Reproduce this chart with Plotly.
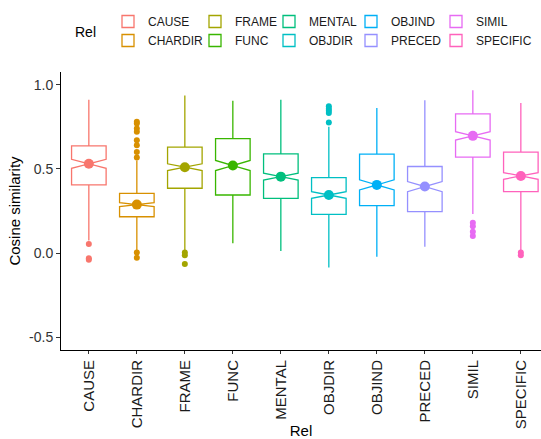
import plotly.graph_objects as go

# Relation categories and their box statistics (cosine similarity)
rels = ["CAUSE", "CHARDIR", "FRAME", "FUNC", "MENTAL",
        "OBJDIR", "OBJIND", "PRECED", "SIMIL", "SPECIFIC"]
colors = ["#F8766D", "#D89000", "#A3A500", "#39B600", "#00BF7D",
          "#00BFC4", "#00B0F6", "#9590FF", "#E76BF3", "#FF62BC"]

q1 = [0.405, 0.216, 0.385, 0.345, 0.325, 0.230, 0.282, 0.246, 0.570, 0.365]
median = [0.530, 0.288, 0.510, 0.520, 0.454, 0.345, 0.405, 0.395, 0.696, 0.458]
q3 = [0.637, 0.355, 0.629, 0.679, 0.589, 0.448, 0.587, 0.514, 0.827, 0.599]
lower_fence = [0.075, 0.010, 0.018, 0.058, 0.012, -0.085, -0.022, 0.038, 0.232, 0.018]
upper_fence = [0.911, 0.550, 0.935, 0.905, 0.911, 0.750, 0.861, 0.907, 0.966, 0.891]
notch_span = [0.027, 0.012, 0.020, 0.030, 0.020, 0.020, 0.030, 0.030, 0.025, 0.020]

outliers = {
    "CAUSE": [0.054, -0.030, -0.040],
    "CHARDIR": [0.780, 0.770, 0.740, 0.720, 0.670, 0.640, 0.600, 0.567, 0.004, -0.028],
    "FRAME": [0.004, -0.012, -0.065],
    "FUNC": [],
    "MENTAL": [],
    "OBJDIR": [0.871, 0.857, 0.845, 0.831, 0.776],
    "OBJIND": [],
    "PRECED": [],
    "SIMIL": [0.180, 0.160, 0.127, 0.101],
    "SPECIFIC": [0.004, -0.012],
}

# legend laid out column by column (two entries per column)
legend_cols = [["CAUSE", "CHARDIR"], ["FRAME", "FUNC"], ["MENTAL", "OBJDIR"],
               ["OBJIND", "PRECED"], ["SIMIL", "SPECIFIC"]]

FONT = "Liberation Sans, Arial, sans-serif"

# plot area in pixels, used to place the legend columns in paper coordinates
PLOT_L, PLOT_R, PLOT_T, PLOT_B = 61, 541, 72, 350
legend_left_px = [108, 195, 269, 351, 436]
legend_top_px = 7


def px_to_paper_x(px):
    return (px - PLOT_L) / (PLOT_R - PLOT_L)


def px_to_paper_y(py):
    return (PLOT_B - py) / (PLOT_B - PLOT_T)


fig = go.Figure()

col_of = {}
for ci, col in enumerate(legend_cols):
    for name in col:
        col_of[name] = ci

for i, rel in enumerate(rels):
    lg = "legend" if col_of[rel] == 0 else f"legend{col_of[rel] + 1}"
    fig.add_trace(go.Box(
        x=[rel], q1=[q1[i]], median=[median[i]], q3=[q3[i]],
        lowerfence=[lower_fence[i]], upperfence=[upper_fence[i]],
        notchspan=[notch_span[i]], notched=True, notchwidth=0.5,
        orientation="v", width=0.72, whiskerwidth=0,
        fillcolor="white", line=dict(color=colors[i], width=1.3),
        name=rel, legend=lg,
        boxpoints=False, hoverinfo="skip",
    ))
    pts = outliers[rel]
    if pts:
        fig.add_trace(go.Scatter(
            x=[rel] * len(pts), y=pts, mode="markers",
            marker=dict(color=colors[i], size=6),
            showlegend=False, hoverinfo="skip",
        ))
    fig.add_trace(go.Scatter(
        x=[rel], y=[median[i]], mode="markers",
        marker=dict(color=colors[i], size=10),
        showlegend=False, hoverinfo="skip",
    ))

legend_common = dict(
    orientation="v", xref="paper", yref="paper",
    xanchor="left", yanchor="top", y=px_to_paper_y(legend_top_px),
    font=dict(family=FONT, size=12, color="#1a1a1a"),
    bgcolor="rgba(0,0,0,0)", tracegroupgap=0,
    itemclick=False, itemdoubleclick=False,
)
layout_legends = {}
for ci, lx in enumerate(legend_left_px):
    key = "legend" if ci == 0 else f"legend{ci + 1}"
    layout_legends[key] = dict(x=px_to_paper_x(lx), **legend_common)

fig.update_layout(
    width=541, height=439,
    margin=dict(l=PLOT_L, r=541 - PLOT_R, t=PLOT_T, b=439 - PLOT_B, autoexpand=False),
    paper_bgcolor="white", plot_bgcolor="white",
    font=dict(family=FONT, color="#1a1a1a"),
    showlegend=True,
    **layout_legends,
    xaxis=dict(
        type="category", categoryorder="array", categoryarray=rels,
        range=[-0.58, 9.42],
        showline=True, linecolor="black", linewidth=1,
        ticks="outside", ticklen=3, tickcolor="#333333",
        tickangle=-90, tickfont=dict(family=FONT, size=15, color="#1a1a1a"),
        showgrid=False, zeroline=False, automargin=False,
        title=dict(text="Rel", font=dict(family=FONT, size=15, color="black"), standoff=0),
    ),
    yaxis=dict(
        type="linear", range=[-0.575, 1.075],
        tickvals=[-0.5, 0.0, 0.5, 1.0], ticktext=["-0.5", "0.0", "0.5", "1.0"],
        showline=True, linecolor="black", linewidth=1,
        ticks="outside", ticklen=4, tickcolor="#333333",
        tickfont=dict(family=FONT, size=14, color="#333333"),
        showgrid=False, zeroline=False, automargin=False,
        title=dict(text="Cosine similarity", font=dict(family=FONT, size=15, color="black"), standoff=4),
    ),
    annotations=[dict(
        text="Rel", xref="paper", yref="paper",
        x=px_to_paper_x(85), y=px_to_paper_y(32),
        xanchor="center", yanchor="middle",
        showarrow=False, font=dict(family=FONT, size=14, color="black"),
    )],
)

fig.write_html("out.html")
